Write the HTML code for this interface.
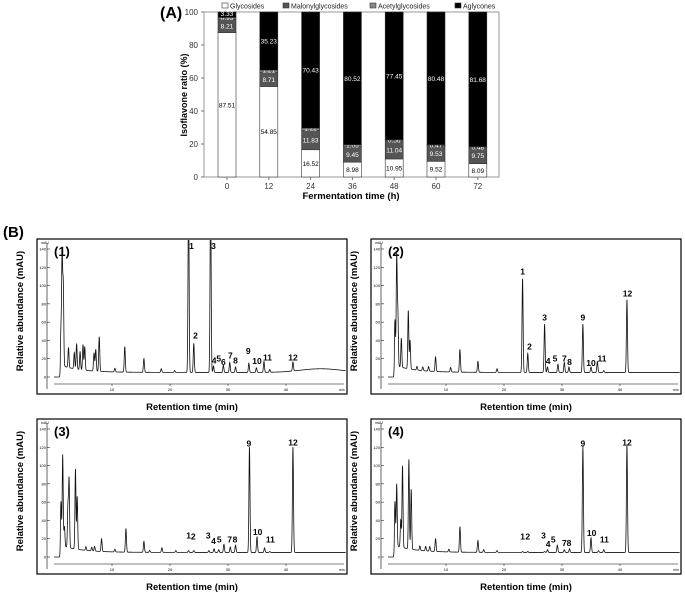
<!DOCTYPE html>
<html><head><meta charset="utf-8"><style>
html,body{margin:0;padding:0;background:#fff;}
svg{display:block;font-family:"Liberation Sans",sans-serif;}
</style></head><body>
<svg id="fig" width="685" height="592" viewBox="0 0 685 592">
<g id="topchart"></g>
<text x="3" y="237" font-size="15" font-weight="bold">(B)</text>
<g id="chroms"></g>
</svg>
<script>
// ---- Panel A data ----
const categories = ["0","12","24","36","48","60","72"];
const glycosides = [87.51,54.85,16.52,8.98,10.95,9.52,8.09];
const malonyl = [8.21,8.71,11.83,9.45,11.04,9.53,9.75];
const acetyl = [0.95,1.21,1.22,1.05,0.56,0.47,0.48];
const aglycones = [3.33,35.23,70.43,80.52,77.45,80.48,81.68];
const yTicks = [0,20,40,60,80,100];
const seriesNames = ["Glycosides","Malonylglycosides","Acetylglycosides","Aglycones"];

// ---- Panel B data (peaks: retention time, height mAU) ----
const p1Times=[1.2,1.4,1.6,2.5,3.5,3.9,4.5,5.0,5.3,6.9,7.2,7.8,10.5,12.2,15.5,18.5,20.8,23.2,24.1,27.0,27.5,29.2,30.3,31.3,33.6,34.9,36.2,37.2,41.2];
const p1Heights=[38,122,88,22,18,28,20,28,26,20,24,38,4,28,15,4,2,200,32,200,7,8,11,6,10,5,12,3,10];
const p2Times=[1.2,1.5,1.7,2.3,3.5,3.8,5.0,6.0,7.0,8.2,10.8,12.4,15.5,18.8,23.2,24.1,27.0,27.5,29.3,30.4,31.2,33.6,35.0,36.1,37.2,41.2];
const p2Heights=[50,120,58,32,64,32,4,4,5,16,5,25,12,4,103,21,53,6,9,11,6,53,6,12,2,80];
const p3Times=[1.2,1.5,1.8,2.4,2.6,3.7,4.0,5.5,6.5,7.0,8.2,10.5,12.4,15.5,16.5,18.6,21.0,23.2,24.1,26.7,27.6,28.4,29.3,30.4,31.3,33.7,35.0,36.3,37.2,41.2];
const p3Heights=[48,100,22,45,75,88,58,4,4,5,14,3,26,12,2,5,2,2,2,2,4,3,9,6,8,116,17,5,1,116];
const p4Times=[1.2,1.5,2.2,2.5,3.6,4.0,5.5,6.5,7.2,8.2,10.5,12.4,15.5,16.5,18.8,23.2,24.1,27.0,27.5,29.2,30.4,31.3,33.6,35.0,36.3,37.2,41.2];
const p4Heights=[48,68,30,90,98,66,5,5,5,14,3,28,13,3,2,1,1,1,3,8,3,4,116,16,2,3,118];
const p1Labels=["1","2","3","4","5","6","7","8","9","10","11","12"];
const p1LabelT=[23.7,24.4,27.5,27.6,28.4,29.2,30.4,31.3,33.5,35.0,36.8,41.2];
const p1LabelY=[140,42,140,15,17,13,20,15,25,14,18,18];
const p2LabelT=[23.2,24.4,27.0,27.6,28.8,30.4,31.3,33.6,35.0,36.9,41.3];
const p2LabelY=[112,30,62,14,17,17,13,62,12,17,88];
const p2LabelN=["1","2","3","4","5","7","8","9","10","11","12"];
const p3LabelN=["1","2","3","4","5","7","8","9","10","11","12"];
const p3LabelT=[23.2,24.0,26.6,27.5,28.5,30.3,31.2,33.6,35.1,37.3,41.2];
const p3LabelY=[20,19,20,14,16,16,16,121,24,16,122];
const p4LabelN=p3LabelN;
const p4LabelT=[23.2,24.1,26.8,27.6,28.5,30.4,31.2,33.6,35.1,37.3,41.2];
const p4LabelY=[19,19,20,11,16,12,12,121,23,16,122];

const NS="http://www.w3.org/2000/svg";
function mk(tag,attrs,parent){const e=document.createElementNS(NS,tag);for(const k in attrs)e.setAttribute(k,attrs[k]);parent.appendChild(e);return e;}

// ---- Panel A draw ----
const topG=document.getElementById('topchart');
const ax={l:204,r:499,t:12,b:177};
const xC=i=>227+i*41.8;
const yA=v=>ax.b-(v/100)*(ax.b-ax.t);
let t=mk('text',{x:160,y:18,'font-size':16,'font-weight':'bold'},topG);t.textContent='(A)';


const frame=mk('rect',{x:ax.l,y:ax.t,width:ax.r-ax.l,height:ax.b-ax.t,fill:'none',stroke:'#999','stroke-width':1},topG);


yTicks.forEach(v=>{
  const y=yA(v);
  const tk=mk('line',{x1:ax.l-3,x2:ax.l,y1:y,y2:y,stroke:'#777'},topG);
  
  
  const tx=mk('text',{x:ax.l-6,y:y+3,'font-size':8,'text-anchor':'end',fill:'#333'},topG);tx.textContent=v;
  
  
});
const fills=['#fff','#555','#888','#000'];
const series=[glycosides,malonyl,acetyl,aglycones];
const labelColors=['#000','#fff','#fff','#fff'];
categories.forEach((c,i)=>{
  let cum=0;const x=xC(i)-9;
  series.forEach((s,k)=>{
    const v=s[i];const y1=yA(cum),y2=yA(cum+v);
    const r=mk('rect',{x:x,y:y2,width:18,height:y1-y2,fill:fills[k],stroke:'#333','stroke-width':0.6},topG);
    
    
    let ly=(y1+y2)/2+2.5;
    if(k==2) ly=y2+2.5;
    if(k==3 && i==0) ly=y2+4;
    const lt=mk('text',{x:xC(i),y:ly,'font-size':6.5,'text-anchor':'middle',fill:labelColors[k]},topG);lt.textContent=v.toFixed(2);
    
    
    cum+=v;
  });
  const tk=mk('line',{x1:xC(i),x2:xC(i),y1:ax.b,y2:ax.b+3,stroke:'#777'},topG);
  
  
  const tx=mk('text',{x:xC(i),y:ax.b+12,'font-size':8,'text-anchor':'middle',fill:'#333'},topG);tx.textContent=c;
  
  
});
t=mk('text',{x:351,y:199,'font-size':9.5,'font-weight':'bold','text-anchor':'middle'},topG);t.textContent='Fermentation time (h)';


t=mk('text',{x:0,y:0,'font-size':9,'font-weight':'bold','text-anchor':'middle',transform:'translate(187,95) rotate(-90)'},topG);t.textContent='Isoflavone ratio (%)';


const legX=[222,283,370,455];
seriesNames.forEach((n,k)=>{
  const r=mk('rect',{x:legX[k],y:3,width:6,height:5,fill:fills[k],stroke:'#333','stroke-width':0.6},topG);
  
  
  const lt=mk('text',{x:legX[k]+8,y:8.5,'font-size':7,fill:'#222'},topG);lt.textContent=n;
  
  
});

// ---- Panel B draw ----
const chroms=document.getElementById('chroms');
const panels=[
 {L:37,T:239,n:'(1)',times:p1Times,h:p1Heights,ln:p1Labels,lt:p1LabelT,ly:p1LabelY,hump:true},
 {L:371,T:239,n:'(2)',times:p2Times,h:p2Heights,ln:p2LabelN,lt:p2LabelT,ly:p2LabelY},
 {L:37,T:419,n:'(3)',times:p3Times,h:p3Heights,ln:p3LabelN,lt:p3LabelT,ly:p3LabelY},
 {L:371,T:419,n:'(4)',times:p4Times,h:p4Heights,ln:p4LabelN,lt:p4LabelT,ly:p4LabelY}
];
const mTicks=[0,20,40,60,80,100,120,140];
const tTicks=[10,20,30,40];
panels.forEach((p,pi)=>{
  const g=mk('g',{},chroms);
  
  
  const W=310,H=155;
  const X=tm=>p.L+17+tm*5.8;
  const Y=v=>p.T+138-v*(128/140);
  const box=mk('rect',{x:p.L,y:p.T,width:W,height:H,fill:'none',stroke:'#000','stroke-width':1.2},g);
  
  
  const cid='clip'+pi;
  const cp=mk('clipPath',{id:cid},g);mk('rect',{x:p.L,y:p.T+1,width:W,height:H},cp);
  mk('line',{x1:p.L+10,x2:p.L+10,y1:p.T+4,y2:p.T+H-5,stroke:'#000','stroke-width':0.6},g);
  mk('line',{x1:p.L+17,x2:p.L+W-3,y1:p.T+H-10,y2:p.T+H-10,stroke:'#000','stroke-width':0.6},g);
  mTicks.forEach(v=>{
    mk('line',{x1:p.L+10,x2:p.L+13,y1:Y(v),y2:Y(v),stroke:'#000','stroke-width':0.5},g);
    const tx=mk('text',{x:p.L+9,y:Y(v)+1.5,'font-size':4,'text-anchor':'end'},g);tx.textContent=v;
    
    
  });
  let u=mk('text',{x:p.L+4,y:p.T+5,'font-size':3.5},g);u.textContent='mAU';
  
  
  tTicks.forEach(v=>{
    mk('line',{x1:X(v),x2:X(v),y1:p.T+H-10,y2:p.T+H-8,stroke:'#000','stroke-width':0.5},g);
    const tx=mk('text',{x:X(v),y:p.T+H-3,'font-size':4,'text-anchor':'middle'},g);tx.textContent=v;
    
    
  });
  u=mk('text',{x:p.L+W-8,y:p.T+H-3,'font-size':3.5},g);u.textContent='min';
  
  
  let d='';
  for(let tm=0;tm<=50.3;tm+=0.03){
    let v=0;
    if(tm>=1.1){
      v=5+8*Math.exp(-(tm-1.1)/3.5);
      if(p.hump) v+=4*Math.exp(-Math.pow((tm-46)/5,2));
    }
    p.times.forEach((c,j)=>{const w=c<6?0.085:0.09;v+=p.h[j]*Math.exp(-Math.pow((tm-c)/w,2)/2);});
    d+=(d?'L':'M')+X(tm).toFixed(2)+','+Y(v).toFixed(2);
  }
  const path=mk('path',{d:d,fill:'none',stroke:'#111','stroke-width':0.8,'clip-path':'url(#'+cid+')'},g);
  
  
  p.ln.forEach((n,j)=>{
    const lt=mk('text',{x:X(p.lt[j]),y:Y(p.ly[j]),'font-size':8.5,'font-weight':'bold','text-anchor':'middle'},g);lt.textContent=n;
    
    
  });
  const pn=mk('text',{x:p.L+17,y:p.T+17,'font-size':13,'font-weight':'bold'},g);pn.textContent=p.n;
  
  
  const xt=mk('text',{x:p.L+W/2,y:p.T+H+16,'font-size':9.5,'font-weight':'bold','text-anchor':'middle'},g);xt.textContent='Retention time (min)';
  
  
  const yt=mk('text',{x:0,y:0,'font-size':9.5,'font-weight':'bold','text-anchor':'middle',transform:'translate('+(p.L-14)+','+(p.T+72)+') rotate(-90)'},g);yt.textContent='Relative abundance (mAU)';
  
  
});
</script>
</body></html>
